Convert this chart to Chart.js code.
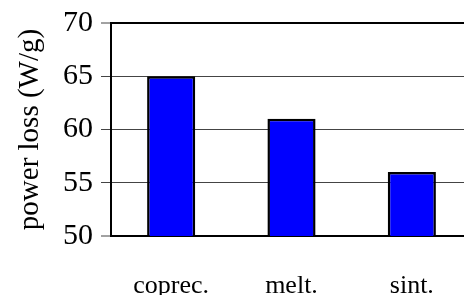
<!DOCTYPE html>
<html>
<head>
<meta charset="utf-8">
<script src="https://cdn.jsdelivr.net/npm/chart.js@4.4.1/dist/chart.umd.min.js"></script>
<style>
    html, body { margin: 0; padding: 0; background: #fff; overflow: hidden; }
    #wrap { width: 472px; height: 295px; }
</style>
</head>
<body>
<div id="wrap"><canvas id="chartLoss" width="472" height="295"></canvas></div>
<script>
var kategori = ['coprec.', 'melt.', 'sint.'];
var powerLoss = [65, 61, 56];
var yMin = 50, yMax = 70, yStep = 5;

document.addEventListener("DOMContentLoaded", function() {
    var ctx = document.getElementById('chartLoss').getContext('2d');
    var font = 'Liberation Serif';

    var chartLoss = new Chart(ctx, {
        type: 'bar',
        data: {
            labels: kategori,
            datasets: [{
                label: 'power loss',
                data: powerLoss,
                backgroundColor: '#0000ff',
                borderColor: '#000000',
                borderWidth: 2.5,
                borderSkipped: false,
                barPercentage: 0.4,
                categoryPercentage: 1
            }]
        },
        options: {
            responsive: false,
            animation: false,
            layout: { padding: { top: 19, right: 0, left: 0, bottom: 0 } },
            plugins: {
                legend: { display: false },
                tooltip: { enabled: false }
            },
            scales: {
                x: {
                    grid: { display: false },
                    border: { display: true, color: '#000', width: 2 },
                    ticks: {
                        color: '#000',
                        padding: 27,
                        font: { family: font, size: 26 }
                    },
                    afterFit: function(scale) { scale.height = 59; }
                },
                y: {
                    min: yMin,
                    max: yMax,
                    ticks: {
                        stepSize: yStep,
                        color: '#000',
                        padding: 8,
                        font: { family: font, size: 30, lineHeight: 1 }
                    },
                    grid: {
                        color: function(c) {
                            return c.tick && c.tick.value === yMax ? '#000' : '#444';
                        },
                        lineWidth: function(c) {
                            if (!c.tick) return 1;
                            if (c.tick.value === yMax) return 2;
                            if (c.tick.value === yMin) return 0;
                            return 1;
                        },
                        tickColor: '#444',
                        tickWidth: 1,
                        tickLength: 10
                    },
                    border: { display: true, color: '#000', width: 2 },
                    title: {
                        display: true,
                        text: 'power loss (W/g)',
                        color: '#000',
                        padding: { top: 13, bottom: 0 },
                        font: { family: font, size: 29, weight: 'normal' }
                    },
                    afterFit: function(scale) { scale.width = 111; }
                }
            }
        }
    });
});
</script>
</body>
</html>
